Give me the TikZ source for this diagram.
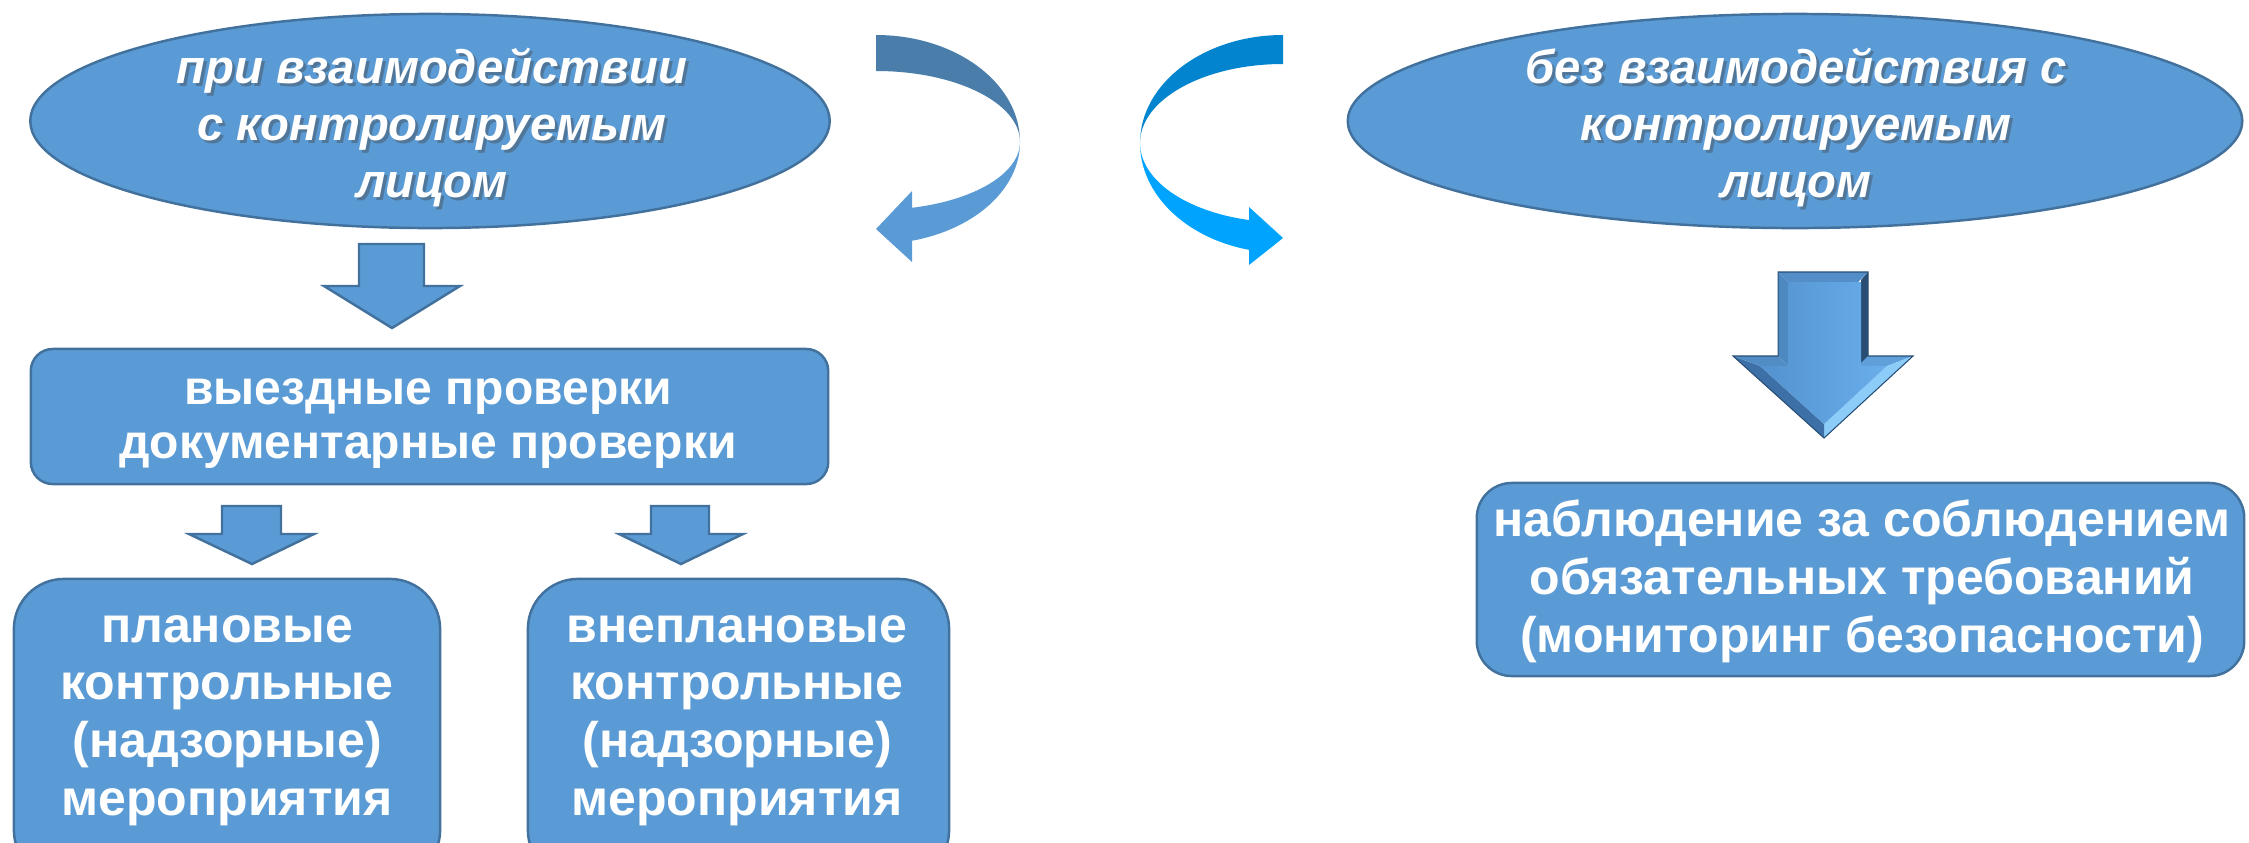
\documentclass[tikz,border=0pt]{standalone}
\usepackage{fontspec}
\setmainfont{Liberation Sans}
\usetikzlibrary{shapes.geometric}
\definecolor{fillblue}{HTML}{5B9BD5}
\definecolor{edgeblue}{HTML}{41719C}
\definecolor{ltop}{RGB}{74,125,170}
\definecolor{rtop}{RGB}{2,132,206}
\definecolor{rbot}{RGB}{0,164,255}
\definecolor{bvtop}{RGB}{84,142,200}
\definecolor{bvleft}{RGB}{78,136,192}
\definecolor{bvright}{RGB}{40,78,116}
\definecolor{bvheadl}{RGB}{82,140,196}
\definecolor{bvheadr}{RGB}{96,160,218}
\definecolor{bvslopel}{RGB}{60,112,166}
\definecolor{bvsloper}{RGB}{140,204,248}
\definecolor{faceL}{RGB}{82,146,206}
\definecolor{faceR}{RGB}{106,174,236}
\newcommand\lstrut{\rule[-0.3\baselineskip]{0pt}{\baselineskip}}
\begin{document}
\begin{tikzpicture}[x=0.01cm,y=0.01cm,
  shapebox/.style={fill=fillblue, draw=edgeblue, line width=0.7pt},
  ovalbox/.style={shapebox, ellipse, inner sep=0pt},
  roundbox/.style={shapebox, rectangle, inner sep=0pt},
  blockarrow/.style={shapebox, line join=miter},
  wtext/.style={text=white, align=center, inner sep=0pt},
  bigfont/.style={font=\bfseries\fontsize{14.23pt}{16.4pt}\selectfont},
  midfont/.style={font=\bfseries\fontsize{13.66pt}{15.6pt}\selectfont},
  ovalfont/.style={font=\bfseries\itshape\fontsize{13.45pt}{16.3pt}\selectfont},
  shadowtext/.style={text=black!75, text opacity=0.4, align=center, inner sep=0pt}]
\useasboundingbox (0,0) rectangle (2249,-842);
\begin{scope}
\clip (0,0) rectangle (2249,-842);

% ellipses
\node[ovalbox, minimum width=7.99cm, minimum height=2.14cm] (ovL) at (430,-121) {};
\node[ovalbox, minimum width=8.94cm, minimum height=2.14cm] (ovR) at (1795,-121) {};

\node[shadowtext, ovalfont] (ovLs) at (435,-132) {\lstrut при взаимодействии\\\lstrut с контролируемым\\\lstrut лицом};
\node[wtext, ovalfont] (ovLt) at (432,-129) {\lstrut при взаимодействии\\\lstrut с контролируемым\\\lstrut лицом};
\node[shadowtext, ovalfont] (ovRs) at (1799,-132) {\lstrut без взаимодействия с\\\lstrut контролируемым\\\lstrut лицом};
\node[wtext, ovalfont] (ovRt) at (1796,-129) {\lstrut без взаимодействия с\\\lstrut контролируемым\\\lstrut лицом};

% boxes
\node[roundbox, rounded corners=0.22cm, minimum width=7.97cm, minimum height=1.35cm] (chk) at (429.5,-416.5) {};
\node[wtext, midfont] (chkt) at (428,-420.5) {\lstrut выездные проверки\\\lstrut документарные проверки};

\node[roundbox, rounded corners=0.5cm, minimum width=4.26cm, minimum height=3.01cm] (plan) at (227,-729.5) {};
\node[wtext, bigfont] (plant) at (227,-717) {\lstrut плановые\\\lstrut контрольные\\\lstrut (надзорные)\\\lstrut мероприятия};

\node[roundbox, rounded corners=0.5cm, minimum width=4.21cm, minimum height=3.01cm] (unplan) at (738.5,-729.5) {};
\node[wtext, bigfont] (unplant) at (737,-717) {\lstrut внеплановые\\\lstrut контрольные\\\lstrut (надзорные)\\\lstrut мероприятия};

\node[roundbox, rounded corners=0.35cm, minimum width=7.67cm, minimum height=1.93cm] (mon) at (1860.5,-579.5) {};
\node[wtext, bigfont] (mont) at (1862,-583) {\lstrut наблюдение за соблюдением\\\lstrut обязательных требований\\\lstrut (мониторинг безопасности)};

% block arrows
\draw[blockarrow] (359,-244) -- (424,-244) -- (424,-286) -- (460,-286) -- (392,-328) -- (324,-286) -- (359,-286) -- cycle;
\draw[blockarrow] (222,-506) -- (281,-506) -- (281,-534) -- (314,-534) -- (252,-564) -- (189,-534) -- (222,-534) -- cycle;
\draw[blockarrow] (651,-506) -- (709,-506) -- (709,-534) -- (743,-534) -- (681,-564) -- (619,-534) -- (651,-534) -- cycle;

% bevelled 3D arrow
\fill[bvtop] (1778,-272) -- (1868,-272) -- (1858,-282) -- (1788,-282) -- cycle;
\fill[bvright] (1868,-272) -- (1868,-356) -- (1861,-366) -- (1861,-280) -- cycle;
\fill[bvheadr] (1868,-356) -- (1913,-356) -- (1887,-366) -- (1858,-366) -- cycle;
\fill[bvsloper] (1913,-356) -- (1824,-438) -- (1824,-424) -- (1887,-366) -- cycle;
\fill[bvslopel] (1824,-438) -- (1733,-356) -- (1760,-366) -- (1824,-424) -- cycle;
\fill[bvheadl] (1733,-356) -- (1778,-356) -- (1788,-366) -- (1760,-366) -- cycle;
\fill[bvleft] (1778,-356) -- (1778,-272) -- (1788,-282) -- (1788,-366) -- cycle;
\shade[left color=faceL, right color=faceR] (1788,-282) -- (1861,-282) -- (1861,-366) -- (1887,-366) -- (1824,-424) -- (1760,-366) -- (1788,-366) -- cycle;
\draw[bvright, line width=0.3pt] (1778,-272) -- (1868,-272) -- (1868,-356) -- (1913,-356) -- (1824,-438) -- (1733,-356) -- (1778,-356) -- cycle;

% curved arrow, left
\fill[ltop] (876,-35) arc[start angle=90, end angle=0, x radius=144, y radius=107]
  arc[start angle=0, end angle=90, x radius=144, y radius=71] -- cycle;
\fill[fillblue] (1020,-142) arc[start angle=0, end angle=-75.52, x radius=144, y radius=102]
  -- (912,-262) -- (876,-229) -- (912,-191) -- (912,-207.8)
  arc[start angle=-75.52, end angle=0, x radius=144, y radius=68] -- cycle;

% curved arrow, right
\fill[rtop] (1283,-35) arc[start angle=90, end angle=180, x radius=143, y radius=108]
  arc[start angle=180, end angle=90, x radius=143, y radius=79] -- cycle;
\fill[rbot] (1140,-143) arc[start angle=180, end angle=256.24, x radius=143, y radius=110]
  -- (1249,-265) -- (1283,-238) -- (1249,-207) -- (1249,-220)
  arc[start angle=256.24, end angle=180, x radius=143, y radius=79.3] -- cycle;
\end{scope}
\end{tikzpicture}
\end{document}
